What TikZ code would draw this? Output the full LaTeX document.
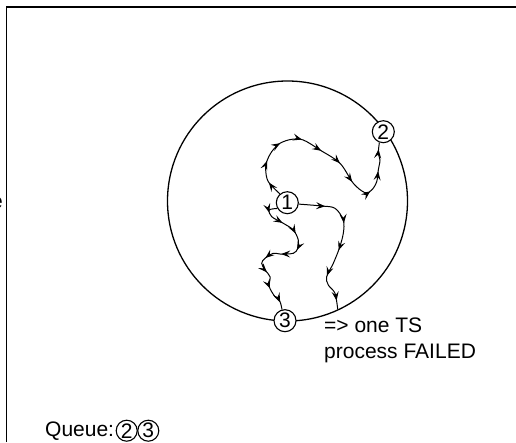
\documentclass[tikz,border=0pt]{standalone}
\usepackage{fontspec}
\setmainfont{Liberation Sans}
\usetikzlibrary{arrows.meta,decorations.markings}
\begin{document}
\begin{tikzpicture}[x=1pt,y=-1pt,
  num/.style={circle,draw,line width=1.1pt,fill=white,inner sep=0pt,minimum size=22pt,font=\fontsize{21}{21}\selectfont},
  qnum/.style={circle,draw,line width=1.1pt,inner sep=0pt,minimum size=21pt,font=\fontsize{21}{21}\selectfont},
  lbl/.style={font=\fontsize{21}{25.5}\selectfont,inner sep=0pt},
  arrowpath/.style={line width=1pt,postaction={decorate},
    decoration={markings,mark=between positions #1 with {\arrow{Stealth[length=9pt,width=7pt,inset=3.5pt]}}}},
  border/.style={line width=1.4pt}]
\useasboundingbox (0,0) rectangle (516,442);
% frame
\coordinate (fa) at (6.5,442);
\coordinate (fb) at (6.5,7);
\coordinate (fc) at (516,7);
\draw[border] (fa) -- (fb) -- (fc);
% clipped text at left
\node[lbl,anchor=base east] (ee) at (3,208) {e};
% big circle
\coordinate (cc) at (287.5,201);
\draw[line width=1.3pt] (cc) circle[radius=120pt];
% nodes
\node[num] (n1) at (287.3,202.7) {1};
\node[num] (n2) at (383.3,131.7) {2};
\node[num] (n3) at (285,320.7) {3};
\coordinate (bend) at (337.7,309.3);
% path 1 -> 2
\draw[arrowpath={0.07 and 0.99 step 0.1}] plot[smooth,tension=0.55] coordinates {
  (n1.130) (268.3,181.7) (265.7,170) (266.7,161.7) (271.7,151.7) (280,143.3)
  (291.7,139.3) (303.3,140) (320,150) (340,163.3) (353.3,183.3) (365,192.7)
  (371.7,190) (376.7,181.7) (378.3,170) (380,160) (378.3,153.3) (n2.250)};
% path 1 -> circle
\draw[arrowpath={0.18 and 0.99 step 0.19}] plot[smooth,tension=0.55] coordinates {
  (n1.-7) (321.7,206) (335,208.3) (343.3,220) (343.3,233.3) (339.3,248.3)
  (333.3,263.3) (326.7,276.7) (328.3,285) (335,293.3) (bend)};
% path 1 -> 3
\draw[arrowpath={0.07 and 0.99 step 0.11}] plot[smooth,tension=0.55] coordinates {
  (n1.210) (269.3,210) (271.7,216.7) (283.3,223.3) (293.3,230) (298.3,240)
  (297.7,248.3) (293.3,253.3) (280,254) (273.3,253.3) (265,258.3) (261.7,263.3)
  (265,270) (270,276.7) (269.3,286.7) (275,296.7) (280,301.7) (n3.105)};
% texts
\node[lbl,anchor=base west,align=left] (fail) at (324,358) {=> one TS\\process FAILED};
\node[lbl,anchor=base west] (queue) at (45,436) {Queue:};
\node[qnum] (q2) at (126.7,430.7) {2};
\node[qnum] (q3) at (148.3,430.7) {3};
\end{tikzpicture}
\end{document}
